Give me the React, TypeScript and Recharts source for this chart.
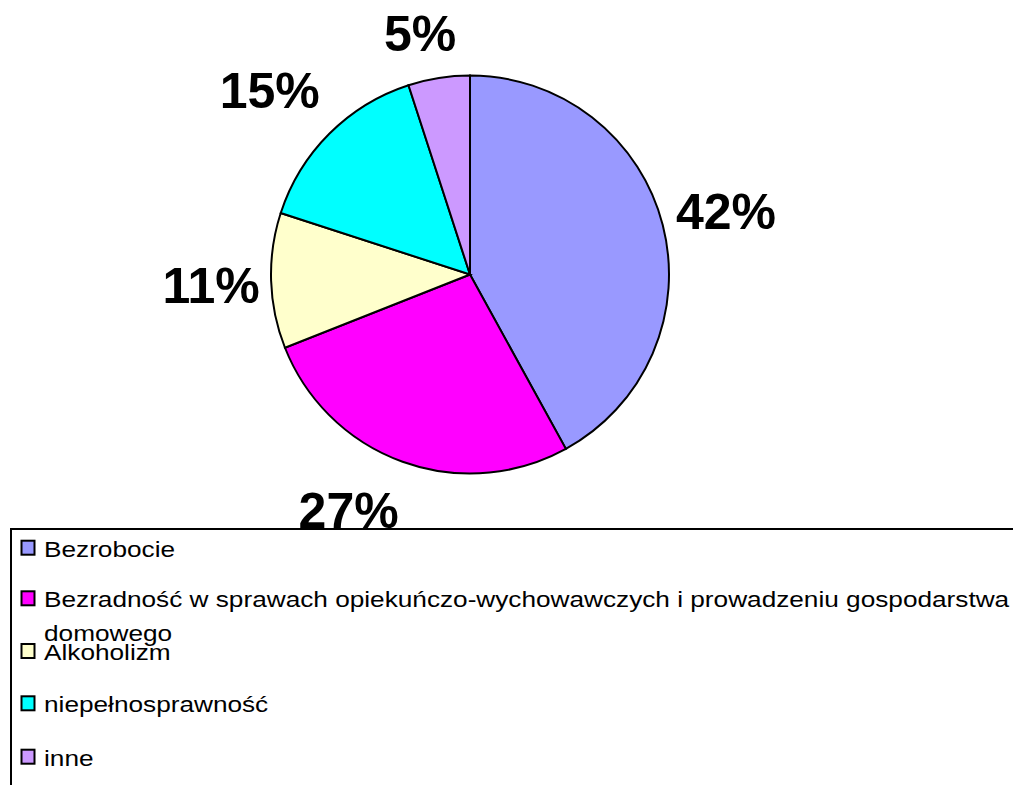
import React from 'react';
import { PieChart, Pie, Cell, Legend } from 'recharts';

const categories = [
  'Bezrobocie',
  'Bezradność w sprawach opiekuńczo-wychowawczych i prowadzeniu gospodarstwa domowego',
  'Alkoholizm',
  'niepełnosprawność',
  'inne',
];
const values = [42, 27, 11, 15, 5];
const colors = ['#9999FF', '#FF00FF', '#FFFFCC', '#00FFFF', '#CC99FF'];
// legend text split into the lines shown in the picture
const legendLines = [
  ['Bezrobocie'],
  ['Bezradność w sprawach opiekuńczo-wychowawczych i prowadzeniu gospodarstwa', 'domowego'],
  ['Alkoholizm'],
  ['niepełnosprawność'],
  ['inne'],
];

// layout (styling only)
const labelNudge = [
  [9, 0],
  [-35, -4],
  [-4, 2],
  [-20, -4],
  [-10, 10],
];
const legendBaselines = [36.7, 87.3, 140, 192.3, 245.7];
const FONT = "'Liberation Sans', Arial, sans-serif";

const data = categories.map((name, i) => ({ name, value: values[i] }));

const RAD = Math.PI / 180;

const renderLabel = (p: any) => {
  const r = p.outerRadius + 56;
  const i = p.index;
  const x = p.cx + r * Math.cos(-p.midAngle * RAD) + labelNudge[i][0];
  const y = p.cy + r * Math.sin(-p.midAngle * RAD) + labelNudge[i][1];
  return (
    <text
      key={`lbl-${i}`}
      x={x}
      y={y + 18}
      textAnchor="middle"
      fontSize={50}
      fontWeight="bold"
      fontFamily={FONT}
      fill="#000"
    >
      {`${values[i]}%`}
    </text>
  );
};

const renderLegend = () => (
  <svg width={1013} height={265} style={{ display: 'block' }}>
    <rect x={11} y={9} width={1200} height={400} fill="none" stroke="#000" strokeWidth={2} />
    {categories.map((c, i) => {
      const b = legendBaselines[i];
      return (
        <g key={c}>
          <rect x={21.5} y={b - 16} width={13} height={14} fill={colors[i]} stroke="#000" strokeWidth={2} />
          {legendLines[i].map((line, j) => (
            <text
              key={j}
              transform={`translate(44, ${b + j * 33.4}) scale(1.165, 1)`}
              fontSize={22.5}
              fontFamily={FONT}
              fill="#000"
            >
              {line}
            </text>
          ))}
        </g>
      );
    })}
  </svg>
);

export default function App() {
  return (
    <div style={{ position: 'absolute', left: 0, top: 0, width: 1013, height: 785, overflow: 'hidden', background: '#fff' }}>
      <PieChart width={1013} height={785} margin={{ top: 0, right: 0, bottom: 0, left: 0 }}>
        <Pie
          data={data}
          dataKey="value"
          nameKey="name"
          cx={470}
          cy={274.5}
          outerRadius={199}
          startAngle={90}
          endAngle={-270}
          stroke="#000"
          strokeWidth={2}
          label={renderLabel}
          labelLine={false}
          isAnimationActive={false}
        >
          {data.map((d, i) => (
            <Cell key={d.name} fill={colors[i]} />
          ))}
        </Pie>
        <Legend
          content={renderLegend}
          wrapperStyle={{ position: 'absolute', left: 0, top: 520, width: 1013, height: 265 }}
        />
      </PieChart>
    </div>
  );
}
